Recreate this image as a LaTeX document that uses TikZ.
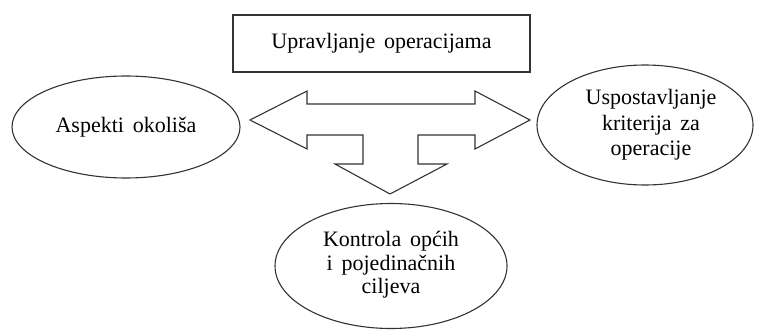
\documentclass[tikz,border=0pt]{standalone}
\usepackage{fontspec}
\setmainfont[WordSpace={1.6,1,1}]{Liberation Serif}
\usetikzlibrary{shapes.geometric}

\begin{document}
\begin{tikzpicture}[
    x=1pt, y=-1pt,
    every node/.style={align=center, inner sep=0pt, font=\fontsize{22}{25.5}\selectfont},
    box/.style={draw=black!80, line width=1.1pt, rectangle, minimum width=297pt, minimum height=57pt},
    oval/.style={draw=black!80, line width=1.1pt, ellipse},
    bigarrow/.style={draw=black!80, line width=1.1pt, line join=miter}
]
\useasboundingbox (0,0) rectangle (757,331);

% Define the box and the three ellipses
\node[box] (top) at (381.5,43.5) {Upravljanje operacijama};
\node[oval, minimum width=228pt, minimum height=102pt] (left) at (126,127) {Aspekti okoliša};
\node[oval, minimum width=216pt, minimum height=120pt] (right) at (645,125) {\hspace*{12pt}Uspostavljanje\\\hspace*{12pt}kriterija za\\\hspace*{12pt}operacije};
\node[oval, minimum width=232pt, minimum height=125pt, font=\fontsize{22}{23.5}\selectfont] (bottom) at (391,266) {\\[-10pt]Kontrola općih\\i pojedinačnih\\ciljeva};

% Draw the three-way block arrow
\draw[bigarrow] (250,120) -- (307,91) -- (307,104) -- (475,104) -- (475,91) -- (530,120)
    -- (475,149) -- (475,135) -- (418,135) -- (418,164) -- (447,164) -- (390,194)
    -- (335,164) -- (363,164) -- (363,135) -- (307,135) -- (307,149) -- cycle;

\end{tikzpicture}
\end{document}
